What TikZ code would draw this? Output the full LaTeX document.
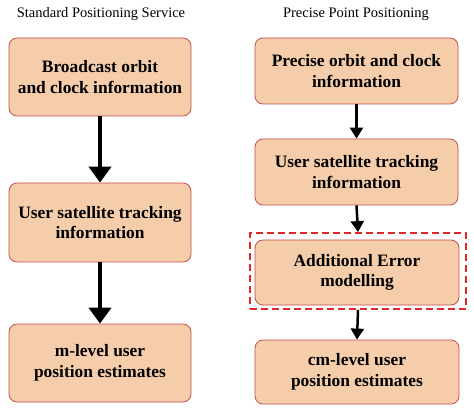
\documentclass[tikz,border=0pt]{standalone}
\usepackage{fontspec}
\setmainfont{Liberation Serif}
\usetikzlibrary{arrows.meta}
\definecolor{boxfill}{HTML}{F6CDAA}
\definecolor{boxdraw}{HTML}{C2504A}
\definecolor{dashred}{HTML}{E02828}
\tikzset{
  box/.style={draw=boxdraw, line width=0.8pt, fill=boxfill, rounded corners=8pt, align=center, font=\fontsize{17.4}{20.5}\selectfont\bfseries},
  title/.style={font=\fontsize{14.5}{16}\selectfont},
  bigarrow/.style={line width=4pt, -{Triangle[length=16pt,width=22pt]}},
  smallarrow/.style={line width=2.5pt, -{Triangle[length=11pt,width=13pt]}},
}
\begin{document}
\begin{tikzpicture}[x=1pt,y=-1pt]
\useasboundingbox (0,0) rectangle (474,414);
\node[title] (t1) at (101,14) {Standard Positioning Service};
\node[title] (t2) at (356,14) {Precise Point Positioning};
% left column
\node[box, minimum width=182pt, minimum height=78pt] (l1) at (100,77) {Broadcast orbit\\and clock information};
\node[box, minimum width=182pt, minimum height=79pt] (l2) at (100,222.5) {User satellite tracking\\information};
\node[box, minimum width=182pt, minimum height=78pt] (l3) at (100,363) {m-level user\\position estimates};
% right column
\node[box, minimum width=203pt, minimum height=66pt] (r1) at (356.5,71) {Precise orbit and clock\\information};
\node[box, minimum width=203pt, minimum height=66pt] (r2) at (356.5,172) {User satellite tracking\\information};
\node[box, minimum width=204pt, minimum height=65pt] (r3) at (357,272.5) {Additional Error\\modelling};
\node[box, minimum width=204pt, minimum height=64pt] (r4) at (357,372) {cm-level user\\position estimates};
\node[draw=dashred, line width=1.8pt, dash pattern=on 7pt off 4pt, minimum width=216pt, minimum height=76pt, inner sep=0pt] (dr) at (358,271) {};
% arrows
\draw[bigarrow] (l1.south) -- (l2.north);
\draw[bigarrow] (l2.south) -- (l3.north);
\draw[smallarrow] (r1.south) -- (r2.north);
\draw[smallarrow] (r2.south) -- (dr.north);
\draw[smallarrow] (dr.south) -- (r4.north);
\end{tikzpicture}
\end{document}
